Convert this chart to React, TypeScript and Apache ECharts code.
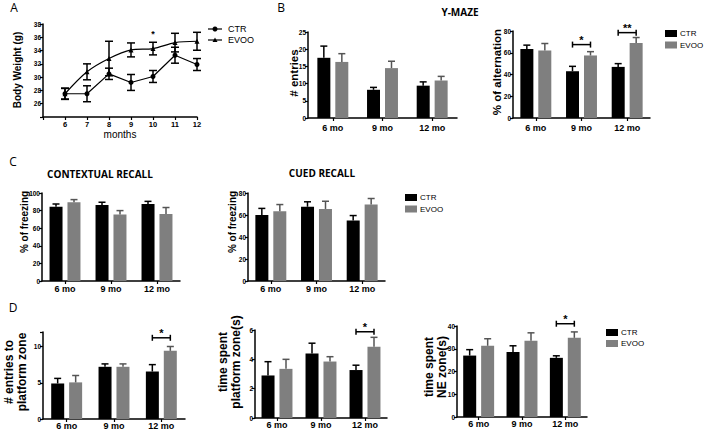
import React, { useEffect, useRef } from 'react';
import * as echarts from 'echarts';

// ---------- DATA ----------
const months = [6, 7, 8, 9, 10, 11, 12];
const bodyWeightCtr = [27.5, 27.5, 30.5, 29.2, 30.1, 33.3, 31.9];
const bodyWeightCtrSem = [0.8, 1.2, 0.85, 1.2, 0.9, 1.2, 0.9];
const bodyWeightEvoo = [27.5, 30.8, 32.8, 34.1, 34.3, 35.2, 35.4];
const bodyWeightEvooSem = [0.85, 1.2, 2.6, 1.05, 0.95, 1.4, 1.35];
const sigBodyWeight = [[10, 36.5]];
const sigBodyWeightLabels = ['*'];

const ages = ['6 mo', '9 mo', '12 mo'];

const entriesCtr = [17.5, 8.2, 9.4];
const entriesCtrSem = [3.4, 0.7, 1.1];
const entriesEvoo = [16.3, 14.5, 10.9];
const entriesEvooSem = [2.4, 2.0, 1.2];

const alternationCtr = [63.5, 43, 47];
const alternationCtrSem = [3.5, 4.5, 3];
const alternationEvoo = [62, 57.5, 69];
const alternationEvooSem = [6.5, 3.5, 5];
const sigAlternation = [[1, 67.5], [2, 78.5]];
const sigAlternationLabels = ['*', '**'];

const contextualCtr = [84.5, 86.5, 87.5];
const contextualCtrSem = [3, 3, 3];
const contextualEvoo = [89.5, 75.5, 76];
const contextualEvooSem = [3, 4.5, 7.5];

const cuedCtr = [60, 67.5, 55];
const cuedCtrSem = [6, 4.5, 4.5];
const cuedEvoo = [63.5, 65.5, 69.5];
const cuedEvooSem = [6, 7, 5.5];

const platformEntriesCtr = [4.9, 7.2, 6.55];
const platformEntriesCtrSem = [0.7, 0.4, 0.95];
const platformEntriesEvoo = [5.05, 7.2, 9.4];
const platformEntriesEvooSem = [0.95, 0.4, 0.6];
const sigPlatformEntries = [[2, 11.2]];
const sigPlatformEntriesLabels = ['*'];

const platformTimeCtr = [2.9, 4.4, 3.27];
const platformTimeCtrSem = [0.94, 0.7, 0.33];
const platformTimeEvoo = [3.35, 3.85, 4.86];
const platformTimeEvooSem = [0.65, 0.33, 0.64];
const sigPlatformTime = [[2, 5.88]];
const sigPlatformTimeLabels = ['*'];

const neTimeCtr = [27, 28.6, 26];
const neTimeCtrSem = [2.6, 2.7, 0.9];
const neTimeEvoo = [31.3, 33.5, 34.8];
const neTimeEvooSem = [3.1, 3.5, 2.6];
const sigNeTime = [[2, 41]];
const sigNeTimeLabels = ['*'];

// ---------- STYLE ----------
const BLACK = '#000000';
const GRAY = '#7f7f7f';
const FONT = '"Liberation Sans", Arial, sans-serif';
const TITLE_FONT = '"Open Sans", "Liberation Sans", sans-serif';
const BAR_W = 13;
const BAR_OFF = 9;
const TICK_FS = 6.5;

const axisLine = { show: true, onZero: false, lineStyle: { color: BLACK, width: 1.5 } };
const axisTick = { show: true, length: 3, lineStyle: { color: BLACK, width: 1.2 } };

function errorSeries(gi: number, means: number[], sems: number[], xs: any[] | null, offset: number, color: string, both: boolean, cap: number) {
  return {
    type: 'custom',
    xAxisIndex: gi,
    yAxisIndex: gi,
    clip: false,
    z: 3,
    data: means.map((m, i) => [xs ? xs[i] : i, m, sems[i]]),
    renderItem: (params: any, api: any) => {
      const c = api.value(0);
      const m = api.value(1);
      const s = api.value(2);
      const p = api.coord([c, m]);
      const top = api.coord([c, m + s]);
      const bot = api.coord([c, m - s]);
      const x = p[0] + offset;
      const st = { stroke: color, lineWidth: 1.5 };
      const children: any[] = [
        { type: 'line', shape: { x1: x, y1: both ? bot[1] : p[1], x2: x, y2: top[1] }, style: st },
        { type: 'line', shape: { x1: x - cap, y1: top[1], x2: x + cap, y2: top[1] }, style: st },
      ];
      if (both) children.push({ type: 'line', shape: { x1: x - cap, y1: bot[1], x2: x + cap, y2: bot[1] }, style: st });
      return { type: 'group', children };
    },
  };
}

function sigSeries(gi: number, items: number[][], labels: string[], bracket: boolean) {
  return {
    type: 'custom',
    xAxisIndex: gi,
    yAxisIndex: gi,
    clip: false,
    z: 4,
    data: items,
    renderItem: (params: any, api: any) => {
      const p = api.coord([api.value(0), api.value(1)]);
      const st = { stroke: BLACK, lineWidth: 1.5 };
      const children: any[] = [];
      if (bracket) {
        const x1 = p[0] - BAR_OFF;
        const x2 = p[0] + BAR_OFF;
        children.push({ type: 'line', shape: { x1, y1: p[1], x2, y2: p[1] }, style: st });
        children.push({ type: 'line', shape: { x1, y1: p[1] - 3, x2: x1, y2: p[1] + 3 }, style: st });
        children.push({ type: 'line', shape: { x1: x2, y1: p[1] - 3, x2, y2: p[1] + 3 }, style: st });
      }
      children.push({
        type: 'text',
        x: p[0],
        y: bracket ? p[1] + 1 : p[1],
        style: {
          text: labels[params.dataIndex],
          fill: BLACK,
          font: (bracket ? 'bold 11px ' : 'bold 9px ') + FONT,
          textAlign: 'center',
          textVerticalAlign: bracket ? 'bottom' : 'middle',
          align: 'center',
          verticalAlign: bracket ? 'bottom' : 'middle',
        },
      });
      return { type: 'group', children };
    },
  };
}

type BarPanel = {
  rect: number[];
  max: number;
  interval: number;
  ctr: number[];
  ctrSem: number[];
  evoo: number[];
  evooSem: number[];
  sig?: number[][];
  sigLabels?: string[];
  labelMargin: number;
};

const barPanels: BarPanel[] = [
  { rect: [308, 32, 149, 86], max: 25, interval: 5, ctr: entriesCtr, ctrSem: entriesCtrSem, evoo: entriesEvoo, evooSem: entriesEvooSem, labelMargin: 5 },
  { rect: [513, 31, 137, 87], max: 80, interval: 20, ctr: alternationCtr, ctrSem: alternationCtrSem, evoo: alternationEvoo, evooSem: alternationEvooSem, sig: sigAlternation, sigLabels: sigAlternationLabels, labelMargin: 5 },
  { rect: [42, 193, 138, 88], max: 100, interval: 20, ctr: contextualCtr, ctrSem: contextualCtrSem, evoo: contextualEvoo, evooSem: contextualEvooSem, labelMargin: 3 },
  { rect: [248, 193, 137, 88], max: 80, interval: 20, ctr: cuedCtr, ctrSem: cuedCtrSem, evoo: cuedEvoo, evooSem: cuedEvooSem, labelMargin: 3 },
  { rect: [43, 332, 142, 87], max: 12, interval: 5, ctr: platformEntriesCtr, ctrSem: platformEntriesCtrSem, evoo: platformEntriesEvoo, evooSem: platformEntriesEvooSem, sig: sigPlatformEntries, sigLabels: sigPlatformEntriesLabels, labelMargin: 2 },
  { rect: [255, 330, 132, 88], max: 6, interval: 2, ctr: platformTimeCtr, ctrSem: platformTimeCtrSem, evoo: platformTimeEvoo, evooSem: platformTimeEvooSem, sig: sigPlatformTime, sigLabels: sigPlatformTimeLabels, labelMargin: 2 },
  { rect: [457, 326, 130, 91], max: 40, interval: 10, ctr: neTimeCtr, ctrSem: neTimeCtrSem, evoo: neTimeEvoo, evooSem: neTimeEvooSem, sig: sigNeTime, sigLabels: sigNeTimeLabels, labelMargin: 2 },
];

function vText(text: string, x: number, y: number, size: number, weight = 'bold') {
  return {
    type: 'text',
    x,
    y,
    rotation: Math.PI / 2,
    style: {
      text,
      fill: BLACK,
      font: `${weight} ${size}px ${FONT}`,
      textAlign: 'center',
      textVerticalAlign: 'middle',
      align: 'center',
      verticalAlign: 'middle',
      lineHeight: size + 1,
    },
  };
}

function hText(text: string, x: number, y: number, font: string, align = 'center') {
  return {
    type: 'text',
    x,
    y,
    style: {
      text,
      fill: BLACK,
      font,
      textAlign: align,
      textVerticalAlign: 'middle',
      align,
      verticalAlign: 'middle',
    },
  };
}

function barLegend(x: number, y1: number, y2: number) {
  return [
    { type: 'rect', shape: { x, y: y1 - 3.5, width: 12, height: 7 }, style: { fill: BLACK } },
    { type: 'rect', shape: { x, y: y2 - 3.5, width: 12, height: 7 }, style: { fill: GRAY } },
    hText('CTR', x + 15, y1, `8px ${FONT}`, 'left'),
    hText('EVOO', x + 15, y2, `8px ${FONT}`, 'left'),
  ];
}

function buildOption() {
  const grid: any[] = [];
  const xAxis: any[] = [];
  const yAxis: any[] = [];
  const series: any[] = [];

  // Panel A
  grid.push({ left: 43, top: 24, width: 154, height: 93 });
  xAxis.push({
    type: 'value', gridIndex: 0, min: 5, max: 12, interval: 1,
    axisLine, axisTick, splitLine: { show: false },
    axisLabel: { fontSize: 7.5, fontWeight: 'bold', color: BLACK, fontFamily: FONT, margin: 3, formatter: (v: number) => (v < 6 ? '' : String(v)) },
  });
  yAxis.push({
    type: 'value', gridIndex: 0, min: 24, max: 38, interval: 2,
    axisLine, axisTick, splitLine: { show: false },
    axisLabel: { fontSize: TICK_FS, fontWeight: 'bold', color: BLACK, fontFamily: FONT, margin: 2, formatter: (v: number) => (v < 26 ? '' : String(v)) },
  });
  series.push({
    type: 'line', name: 'CTR', xAxisIndex: 0, yAxisIndex: 0,
    data: months.map((m, i) => [m, bodyWeightCtr[i]]),
    symbol: 'circle', symbolSize: 5, lineStyle: { color: BLACK, width: 1.2 }, itemStyle: { color: BLACK }, z: 2,
  });
  series.push({
    type: 'line', name: 'EVOO', xAxisIndex: 0, yAxisIndex: 0, smooth: 0.3,
    data: months.map((m, i) => [m, bodyWeightEvoo[i]]),
    symbol: 'triangle', symbolSize: 5, lineStyle: { color: BLACK, width: 1.2 }, itemStyle: { color: BLACK }, z: 2,
  });
  series.push(errorSeries(0, bodyWeightCtr, bodyWeightCtrSem, months, 0, BLACK, true, 4));
  series.push(errorSeries(0, bodyWeightEvoo, bodyWeightEvooSem, months, 0, BLACK, true, 4));
  series.push(sigSeries(0, sigBodyWeight, sigBodyWeightLabels, false));

  barPanels.forEach((p, k) => {
    const gi = k + 1;
    grid.push({ left: p.rect[0], top: p.rect[1], width: p.rect[2], height: p.rect[3] });
    xAxis.push({
      type: 'category', gridIndex: gi, data: ages,
      axisLine, axisTick: { ...axisTick, alignWithLabel: true },
      axisLabel: { fontSize: 9, fontWeight: 'bold', color: BLACK, fontFamily: FONT, margin: p.labelMargin },
    });
    const lastTick = Math.floor(p.max / p.interval) * p.interval;
    yAxis.push({
      type: 'value', gridIndex: gi, min: 0, max: p.max, interval: p.interval,
      axisLine, axisTick, splitLine: { show: false },
      axisLabel: { fontSize: TICK_FS, fontWeight: 'bold', color: BLACK, fontFamily: FONT, margin: 2, formatter: (v: number) => (v > lastTick ? '' : String(v)) },
    });
    series.push({ type: 'bar', name: 'CTR', xAxisIndex: gi, yAxisIndex: gi, data: p.ctr, barWidth: BAR_W, barGap: '38%', itemStyle: { color: BLACK } });
    series.push({ type: 'bar', name: 'EVOO', xAxisIndex: gi, yAxisIndex: gi, data: p.evoo, barWidth: BAR_W, barGap: '38%', itemStyle: { color: GRAY } });
    series.push(errorSeries(gi, p.ctr, p.ctrSem, null, -BAR_OFF, BLACK, false, 3.5));
    series.push(errorSeries(gi, p.evoo, p.evooSem, null, BAR_OFF, '#555555', false, 3.5));
    if (p.sig && p.sigLabels) series.push(sigSeries(gi, p.sig, p.sigLabels, true));
  });

  const letterFont = `12px ${TITLE_FONT}`;
  const titleFont = `bold 10px ${TITLE_FONT}`;
  const graphic: any[] = [
    hText('A', 14, 7, letterFont),
    hText('B', 281, 7, letterFont),
    hText('C', 13, 161, letterFont),
    hText('D', 13, 307, letterFont),
    hText('Y-MAZE', 460, 12, titleFont),
    hText('CONTEXTUAL RECALL', 100, 174, titleFont),
    hText('CUED RECALL', 322, 173, titleFont),
    hText('months', 120, 134, `10px ${FONT}`),
    vText('Body Weight (g)', 17, 70, 10),
    vText('# entries', 294, 73, 11.5),
    vText('% of alternation', 497, 72, 11.5),
    vText('% of freezing', 24, 222, 10),
    vText('% of freezing', 232, 222, 10),
    vText('# entries to\nplatform zone', 15, 372, 12),
    vText('time spent\nplatform zone(s)', 229, 362, 12),
    vText('time spent\nNE zone(s)', 435, 367, 12),
    // legend A
    { type: 'line', shape: { x1: 208, y1: 29, x2: 222, y2: 29 }, style: { stroke: BLACK, lineWidth: 1.2 } },
    { type: 'circle', shape: { cx: 215, cy: 29, r: 2.5 }, style: { fill: BLACK } },
    { type: 'line', shape: { x1: 208, y1: 40, x2: 222, y2: 40 }, style: { stroke: BLACK, lineWidth: 1.2 } },
    { type: 'polygon', shape: { points: [[215, 37.5], [217.5, 42], [212.5, 42]] }, style: { fill: BLACK } },
    hText('CTR', 228, 29, `9px ${FONT}`, 'left'),
    hText('EVOO', 228, 40, `9px ${FONT}`, 'left'),
    ...barLegend(665, 33.5, 45),
    ...barLegend(405, 197.5, 209),
    ...barLegend(606, 332.5, 343.5),
  ];

  return {
    animation: false,
    backgroundColor: '#ffffff',
    grid,
    xAxis,
    yAxis,
    series,
    graphic,
  };
}

export default function App() {
  const ref = useRef<HTMLDivElement>(null);
  useEffect(() => {
    if (!ref.current) return;
    const chart = echarts.init(ref.current, undefined, { renderer: 'svg' });
    chart.setOption(buildOption() as any);
    return () => chart.dispose();
  }, []);
  return (
    <div
      ref={ref}
      style={{ position: 'absolute', left: 0, top: 0, width: 709, height: 430, background: '#fff' }}
    />
  );
}
